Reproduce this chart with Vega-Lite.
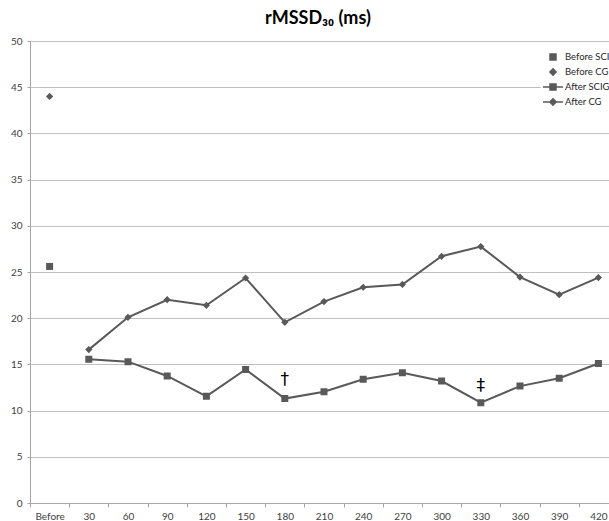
{
  "$schema": "https://vega.github.io/schema/vega-lite/v6.json",
  "autosize": {"type": "none"},
  "width": 588,
  "height": 462,
  "padding": {"left": 30, "top": 41, "right": 0, "bottom": 18},
  "background": "white",
  "title": {"text": "rMSSD₃₀ (ms)", "font": "Lato", "fontSize": 18, "fontWeight": "bold", "color": "#000000", "offset": 8, "dx": -6},
  "config": {"view": {"stroke": null}, "font": "Lato"},
  "datasets": {
    "points": [
      {"time": "Before", "series": "Before SCIG", "phase": "Before", "value": 25.6},
      {"time": "Before", "series": "Before CG", "phase": "Before", "value": 44.0},
      {"time": "30", "series": "After SCIG", "phase": "After", "value": 15.55},
      {"time": "60", "series": "After SCIG", "phase": "After", "value": 15.3},
      {"time": "90", "series": "After SCIG", "phase": "After", "value": 13.75},
      {"time": "120", "series": "After SCIG", "phase": "After", "value": 11.55},
      {"time": "150", "series": "After SCIG", "phase": "After", "value": 14.45},
      {"time": "180", "series": "After SCIG", "phase": "After", "value": 11.3},
      {"time": "210", "series": "After SCIG", "phase": "After", "value": 12.05},
      {"time": "240", "series": "After SCIG", "phase": "After", "value": 13.4},
      {"time": "270", "series": "After SCIG", "phase": "After", "value": 14.1},
      {"time": "300", "series": "After SCIG", "phase": "After", "value": 13.2},
      {"time": "330", "series": "After SCIG", "phase": "After", "value": 10.85},
      {"time": "360", "series": "After SCIG", "phase": "After", "value": 12.65},
      {"time": "390", "series": "After SCIG", "phase": "After", "value": 13.5},
      {"time": "420", "series": "After SCIG", "phase": "After", "value": 15.1},
      {"time": "30", "series": "After CG", "phase": "After", "value": 16.6},
      {"time": "60", "series": "After CG", "phase": "After", "value": 20.1},
      {"time": "90", "series": "After CG", "phase": "After", "value": 22.0},
      {"time": "120", "series": "After CG", "phase": "After", "value": 21.4},
      {"time": "150", "series": "After CG", "phase": "After", "value": 24.35},
      {"time": "180", "series": "After CG", "phase": "After", "value": 19.55},
      {"time": "210", "series": "After CG", "phase": "After", "value": 21.8},
      {"time": "240", "series": "After CG", "phase": "After", "value": 23.35},
      {"time": "270", "series": "After CG", "phase": "After", "value": 23.65},
      {"time": "300", "series": "After CG", "phase": "After", "value": 26.7},
      {"time": "330", "series": "After CG", "phase": "After", "value": 27.75},
      {"time": "360", "series": "After CG", "phase": "After", "value": 24.45},
      {"time": "390", "series": "After CG", "phase": "After", "value": 22.55},
      {"time": "420", "series": "After CG", "phase": "After", "value": 24.4}
    ],
    "notes": [
      {"time": "180", "value": 13.3, "label": "†"},
      {"time": "330", "value": 12.7, "label": "‡"}
    ]
  },
  "encoding": {
    "x": {
      "field": "time",
      "type": "ordinal",
      "sort": ["Before", "30", "60", "90", "120", "150", "180", "210", "240", "270", "300", "330", "360", "390", "420"],
      "scale": {"type": "band", "domain": ["Before", "30", "60", "90", "120", "150", "180", "210", "240", "270", "300", "330", "360", "390", "420"], "paddingInner": 0, "paddingOuter": 0},
      "axis": {"title": null, "labelAngle": 0, "tickBand": "extent", "grid": false, "domainColor": "#a6a6a6", "tickColor": "#a6a6a6", "tickSize": 4, "labelPadding": 4, "labelFontSize": 10, "labelColor": "#404040", "labelFont": "Lato"}
    },
    "y": {
      "field": "value",
      "type": "quantitative",
      "scale": {"domain": [0, 50], "nice": false},
      "axis": {"title": null, "values": [0, 5, 10, 15, 20, 25, 30, 35, 40, 45, 50], "grid": true, "gridColor": "#c0c0c0", "domainColor": "#a6a6a6", "tickColor": "#a6a6a6", "tickSize": 3, "labelPadding": 5, "labelFontSize": 10, "labelColor": "#404040", "labelFont": "Lato"}
    }
  },
  "layer": [
    {
      "data": {"name": "points"},
      "transform": [{"filter": "datum.phase === 'After'"}],
      "mark": {"type": "line", "strokeWidth": 2},
      "encoding": {
        "color": {
          "field": "series",
          "scale": {"domain": ["Before SCIG", "Before CG", "After SCIG", "After CG"], "range": ["#595959", "#595959", "#595959", "#595959"]},
          "legend": {
            "title": null,
            "orient": "none",
            "legendX": 511,
            "legendY": 4,
            "padding": 6,
            "fillColor": "white",
            "symbolSize": 100,
            "symbolStrokeWidth": 1.5,
            "labelFontSize": 9.5,
            "labelColor": "#262626",
            "labelFont": "Lato",
            "labelOffset": 6,
            "rowPadding": 2
          }
        }
      }
    },
    {
      "data": {"name": "points"},
      "mark": {"type": "point", "filled": true, "opacity": 1, "color": "#595959", "size": 136},
      "encoding": {
        "shape": {
          "field": "series",
          "scale": {
            "domain": ["Before SCIG", "Before CG", "After SCIG", "After CG"],
            "range": [
              "M-0.6,-0.6H0.6V0.6H-0.6Z",
              "M0,-0.62L0.62,0L0,0.62L-0.62,0Z",
              "M-2,0H2M-0.6,-0.6H0.6V0.6H-0.6Z",
              "M-2,0H2M0,-0.62L0.62,0L0,0.62L-0.62,0Z"
            ]
          },
          "legend": {
            "title": null,
            "orient": "none",
            "legendX": 511,
            "legendY": 4,
            "padding": 6,
            "fillColor": "white",
            "symbolSize": 100,
            "symbolFillColor": "#595959",
            "symbolStrokeColor": "#595959",
            "symbolStrokeWidth": 1.5,
            "labelFontSize": 9.5,
            "labelColor": "#262626",
            "labelFont": "Lato",
            "labelOffset": 6,
            "rowPadding": 2
          }
        }
      }
    },
    {
      "data": {"name": "notes"},
      "mark": {"type": "text", "fontSize": 17, "color": "#000000", "font": "DejaVu Sans"},
      "encoding": {"text": {"field": "label"}}
    }
  ]
}
